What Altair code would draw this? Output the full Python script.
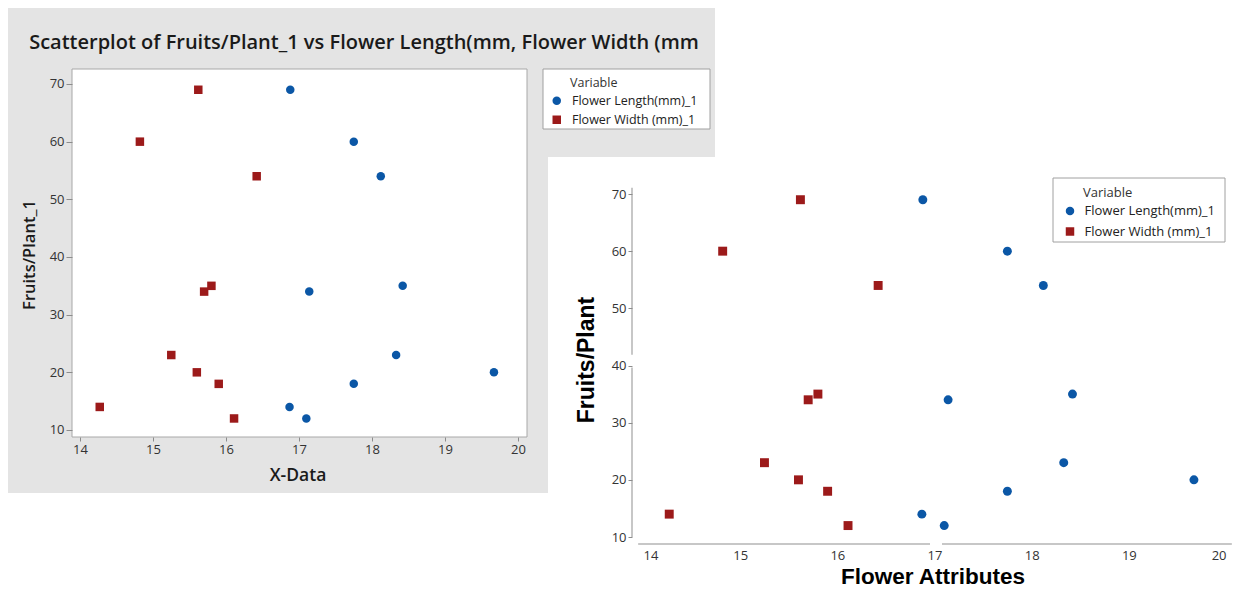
import altair as alt
import pandas as pd

# ---- data ----
fruits = [69, 60, 54, 34, 35, 23, 20, 18, 14, 12]
flower_length = [16.88, 17.75, 18.12, 17.14, 18.42, 18.33, 19.67, 17.75, 16.87, 17.10]
flower_width = [15.62, 14.82, 16.42, 15.70, 15.80, 15.25, 15.60, 15.90, 14.27, 16.11]
series = ["Flower Length(mm)_1", "Flower Width (mm)_1"]
colors = ["#0b57a6", "#9c1a1a"]
shapes = ["circle", "square"]
x_ticks = [14, 15, 16, 17, 18, 19, 20]
y_ticks = [10, 20, 30, 40, 50, 60, 70]

# broken-axis segments of the right chart (data units)
ry_seg_start = [10, 41.9]
ry_seg_end = [39.65, 71.1]
rx_seg_start = [13.95, 17.077]
rx_seg_end = [16.954, 20.06]

df = pd.DataFrame({
    "Variable": [series[0]] * len(fruits) + [series[1]] * len(fruits),
    "X": flower_length + flower_width,
    "Y": fruits + fruits,
})
one = pd.DataFrame({"k": [0]})

FONT = "Open Sans"
LAB = "#333333"
TICK = "#8c8c8c"


def legend(x, y, rowpad, size, loff):
    return alt.Legend(
        title=None, orient="none", legendX=x, legendY=y,
        labelFont=FONT, labelFontSize=size, labelColor="#222222",
        symbolSize=72, symbolStrokeWidth=0, symbolOpacity=1, labelOffset=loff,
        rowPadding=rowpad, padding=0,
    )


def legend_box(x0, x1, y0, y1):
    return alt.Chart(one).mark_rect(fill="white", stroke="#a0a0a0", strokeWidth=1).encode(
        x=alt.value(x0), x2=alt.value(x1), y=alt.value(y0), y2=alt.value(y1))


def legend_title(x, y, size):
    return alt.Chart(one).mark_text(
        text="Variable", font=FONT, fontSize=size, color=LAB, align="left", baseline="middle"
    ).encode(x=alt.value(x), y=alt.value(y))


def axis(orient, offset, values, ticks=True, tsize=5, lpad=2, fsize=13):
    return alt.Axis(
        orient=orient, offset=offset, values=values, domain=False, grid=False,
        ticks=ticks, tickColor=TICK, tickSize=tsize, labelPadding=lpad,
        labelFont=FONT, labelFontSize=fsize, labelColor=LAB, title=None, zindex=1,
    )


# ---- left (gray) panel ----
bg_top = alt.Chart(one).mark_rect(color="#e4e4e4").encode(
    x=alt.value(0), x2=alt.value(707), y=alt.value(0), y2=alt.value(149))
bg_left = alt.Chart(one).mark_rect(color="#e4e4e4").encode(
    x=alt.value(0), x2=alt.value(540), y=alt.value(149), y2=alt.value(485))
frame = alt.Chart(one).mark_rect(fill="white", stroke="#a8a8a8", strokeWidth=1).encode(
    x=alt.value(64), x2=alt.value(519), y=alt.value(61), y2=alt.value(429))

lg_left = legend(542.5, 86.5, 6, 12.5, 9)
left_pts = alt.Chart(df).mark_point(filled=True, size=72, opacity=1).encode(
    x=alt.X("X:Q", scale=alt.Scale(domain=[13.89, 20.123], range=[64, 519], nice=False, zero=False),
            axis=axis("bottom", -151, x_ticks, tsize=4)),
    y=alt.Y("Y:Q", scale=alt.Scale(domain=[8.786, 72.6], range=[429, 61], nice=False, zero=False),
            axis=axis("left", -64, y_ticks, tsize=6)),
    color=alt.Color("Variable:N", scale=alt.Scale(domain=series, range=colors), legend=lg_left),
    shape=alt.Shape("Variable:N", scale=alt.Scale(domain=series, range=shapes), legend=lg_left),
)

title_left = alt.Chart(one).mark_text(
    text="Scatterplot of Fruits/Plant_1 vs Flower Length(mm, Flower Width (mm",
    font=FONT, fontSize=20, fontWeight=600, color="#1a1a1a", align="center", baseline="middle",
).encode(x=alt.value(356), y=alt.value(35))
xt_left = alt.Chart(one).mark_text(
    text="X-Data", font=FONT, fontSize=17.5, fontWeight=600, color="#1a1a1a",
    align="center", baseline="middle").encode(x=alt.value(290), y=alt.value(468))
yt_left = alt.Chart(one).mark_text(
    text="Fruits/Plant_1", font=FONT, fontSize=16.5, fontWeight=600, color="#1a1a1a",
    align="center", baseline="middle", angle=270).encode(x=alt.value(22), y=alt.value(247))

# ---- right (white) panel ----
rx_scale = alt.Scale(domain=[14, 20], range=[635, 1218], nice=False, zero=False)
ry_scale = alt.Scale(domain=[10, 70], range=[529, 186], nice=False, zero=False)

lg_right = legend(1055.5, 196.5, 6.5, 13, 8)
right_pts = alt.Chart(df).mark_point(filled=True, size=80, opacity=1).encode(
    x=alt.X("X:Q", scale=rx_scale, axis=axis("bottom", -44, x_ticks, ticks=False, lpad=5)),
    y=alt.Y("Y:Q", scale=ry_scale, axis=axis("left", -624, y_ticks, tsize=4)),
    color=alt.Color("Variable:N", scale=alt.Scale(domain=series, range=colors), legend=lg_right),
    shape=alt.Shape("Variable:N", scale=alt.Scale(domain=series, range=shapes), legend=lg_right),
)

ry_line = alt.Chart(pd.DataFrame({"a": ry_seg_start, "b": ry_seg_end})).mark_rule(
    color="#b4b4b4", strokeWidth=1.5).encode(
    x=alt.value(624), y=alt.Y("a:Q", scale=ry_scale, axis=None), y2="b:Q")
rx_line = alt.Chart(pd.DataFrame({"a": rx_seg_start, "b": rx_seg_end})).mark_rule(
    color="#b4b4b4", strokeWidth=1.5).encode(
    y=alt.value(536), x=alt.X("a:Q", scale=rx_scale, axis=None), x2="b:Q")

xt_right = alt.Chart(one).mark_text(
    text="Flower Attributes", font="Liberation Sans", fontSize=22.5, fontWeight="bold",
    color="#000000", align="center", baseline="middle").encode(x=alt.value(925), y=alt.value(569))
yt_right = alt.Chart(one).mark_text(
    text="Fruits/Plant", font="Liberation Sans", fontSize=23, fontWeight="bold",
    color="#000000", align="center", baseline="middle", angle=270).encode(
    x=alt.value(579), y=alt.value(352))

chart = alt.layer(
    bg_top, bg_left, frame,
    legend_box(535, 702, 61, 121), legend_title(562, 75, 12.5),
    left_pts, title_left, xt_left, yt_left,
    legend_box(1045, 1217, 170, 234), legend_title(1075, 185, 13),
    ry_line, rx_line, right_pts, xt_right, yt_right,
).resolve_scale(
    x="independent", y="independent", color="independent", shape="independent"
).properties(
    width=1224, height=580, padding=0, autosize=alt.AutoSizeParams(type="none"),
    background="white",
).configure_view(stroke=None)

chart.save("out.html", embed_options={"renderer": "svg", "actions": False})
